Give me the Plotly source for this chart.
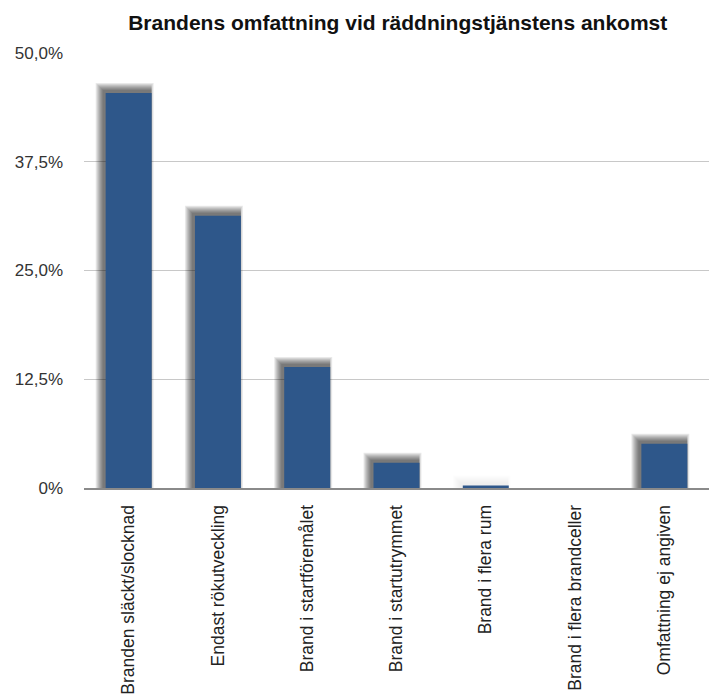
import plotly.graph_objects as go

# Andel bränder efter omfattning när räddningstjänsten anlände (procent)
categories = [
    "Branden släckt/slocknad",
    "Endast rökutveckling",
    "Brand i startföremålet",
    "Brand i startutrymmet",
    "Brand i flera rum",
    "Brand i flera brandceller",
    "Omfattning ej angiven",
]
values = [45.4, 31.3, 13.9, 2.9, 0.3, 0.0, 5.1]

tick_vals = [0, 12.5, 25, 37.5, 50]
tick_text = ["0%", "12,5%", "25,0%", "37,5%", "50,0%"]

BAR_COLOR = "#2e578a"
BAR_WIDTH = 0.515          # in category units
PX_X = 1 / 89.3            # one pixel in category units
PX_Y = 50 / 435            # one pixel in percent units

fig = go.Figure()

# soft drop shadow towards the upper left, built from stacked translucent bars
for k in range(1, 9):
    left_grow = (2 + k) * PX_X
    right_grow = max(0, k - 6) * PX_X
    w = BAR_WIDTH + left_grow + right_grow
    colors = []
    for v in values:
        strength = min(1.0, (v / PX_Y) / 25.0)
        colors.append(f"rgba(0,0,0,{0.085 * strength:.3f})")
    fig.add_trace(go.Bar(
        x=categories,
        y=[v + (2 + k) * PX_Y if v > 0 else 0 for v in values],
        width=w,
        offset=-BAR_WIDTH / 2 - left_grow,
        marker=dict(color=colors, line=dict(width=0)),
        hoverinfo="skip",
        showlegend=False,
    ))

fig.add_trace(go.Bar(
    x=categories,
    y=values,
    width=BAR_WIDTH,
    offset=-BAR_WIDTH / 2,
    marker=dict(color=BAR_COLOR, line=dict(width=0)),
    showlegend=False,
))

fig.update_layout(
    width=709,
    height=698,
    barmode="overlay",
    paper_bgcolor="white",
    plot_bgcolor="white",
    margin=dict(l=84, r=0, t=53, b=210),
    font=dict(family="Liberation Sans, Arial, sans-serif", color="#222"),
    title=dict(
        text="<b>Brandens omfattning vid räddningstjänstens ankomst</b>",
        x=0.561, xanchor="center",
        y=0.967, yanchor="middle",
        font=dict(size=21, color="#111"),
    ),
    xaxis=dict(
        range=[-0.5, 6.5],
        tickangle=-90,
        tickfont=dict(size=17.5, color="#222"),
        showline=True,
        linecolor="#8a8a8a",
        linewidth=2,
        showgrid=False,
        ticks="",
        ticklabelstandoff=8,
    ),
    yaxis=dict(
        range=[0, 50],
        tickvals=tick_vals,
        ticktext=tick_text,
        tickfont=dict(size=17, color="#333"),
        showgrid=True,
        gridcolor="#c8c8c8",
        gridwidth=1,
        zeroline=False,
        ticks="",
        ticklabelstandoff=20,
    ),
)

fig.write_html("out.html")
